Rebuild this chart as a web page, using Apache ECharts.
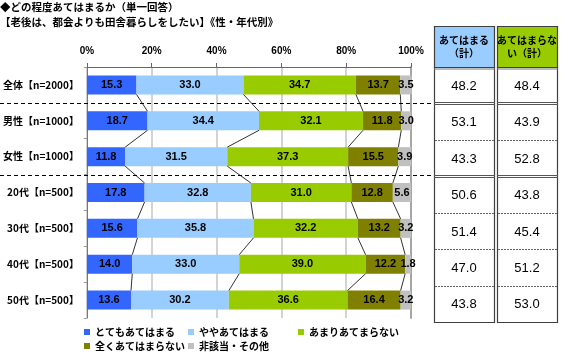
<!DOCTYPE html>
<html><head><meta charset="utf-8">
<script src="https://cdn.jsdelivr.net/npm/echarts@6/dist/echarts.min.js"></script>
<style>html,body{margin:0;padding:0;background:#fff}#c{width:580px;height:356px}</style>
</head><body><div id="c"></div>
<script>
// ---- data ----
const categories = ['全体【n=2000】','男性【n=1000】','女性【n=1000】','20代【n=500】','30代【n=500】','40代【n=500】','50代【n=500】'];
const seriesNames = ['とてもあてはまる','ややあてはまる','あまりあてまらない','全くあてはまらない','非該当・その他'];
const veryTrue     = [15.3, 18.7, 11.8, 17.8, 15.6, 14.0, 13.6];
const somewhatTrue = [33.0, 34.4, 31.5, 32.8, 35.8, 33.0, 30.2];
const notReally    = [34.7, 32.1, 37.3, 31.0, 32.2, 39.0, 36.6];
const notAtAll     = [13.7, 11.8, 15.5, 12.8, 13.2, 12.2, 16.4];
const otherNA      = [3.5, 3.0, 3.9, 5.6, 3.2, 1.8, 3.2];
const applyTotal    = [48.2, 53.1, 43.3, 50.6, 51.4, 47.0, 43.8];
const notApplyTotal = [48.4, 43.9, 52.8, 43.8, 45.4, 51.2, 53.0];
const tableHeaders = ['あてはまる\n（計）', 'あてはまらな\nい（計）'];
const titleText = '◆どの程度あてはまるか（単一回答）\n【老後は、都会よりも田舎暮らしをしたい】《性・年代別》';

// ---- styles ----
const colors = ['#3366FF','#99CCFF','#99CC00','#808000','#C0C0C0'];
const JP = '"Noto Sans CJK JP","Noto Sans",sans-serif';
const AR = '"Liberation Sans",Arial,sans-serif';
const BAR_W = 19;

const allSeries = [veryTrue, somewhatTrue, notReally, notAtAll, otherNA];
// cumulative boundaries for connector lines
const cum = categories.map((_, i) => {
  let s = 0; const out = [];
  for (let k = 0; k < 4; k++) { s += allSeries[k][i]; out.push(s); }
  return out;
});
const connData = [];
for (let i = 0; i < categories.length - 1; i++) {
  for (let k = 0; k < 4; k++) connData.push([cum[i][k], i, cum[i+1][k], i+1]);
}

const chart = echarts.init(document.getElementById('c'), null, {renderer: 'canvas'});

const legendPos = [[84, 327], [188, 327], [298, 327], [84, 341], [188, 341]];

const option = {
  animation: false,
  backgroundColor: '#fff',
  title: {
    text: titleText, left: 0, top: 0, padding: 0,
    textStyle: {fontSize: 10.5, fontWeight: 'bold', fontFamily: JP, color: '#000', lineHeight: 15}
  },
  legend: seriesNames.map((n, i) => ({
    data: [n], left: legendPos[i][0], top: legendPos[i][1], padding: 0,
    itemWidth: 6, itemHeight: 6, icon: 'rect', selectedMode: false,
    textStyle: {fontSize: 10, fontWeight: 'bold', fontFamily: JP, color: '#000'}
  })),
  grid: {left: 86, right: 169, top: 67, bottom: 38},
  xAxis: {
    type: 'value', position: 'top', min: 0, max: 100, interval: 20,
    axisLine: {show: true, lineStyle: {color: '#666', width: 1}},
    axisTick: {show: true, length: 4, lineStyle: {color: '#666'}},
    axisLabel: {formatter: '{value}%', fontSize: 10, fontWeight: 'bold', fontFamily: AR, color: '#000', margin: 11},
    splitLine: {show: true, lineStyle: {color: '#c4c4c4', width: 1.5}}
  },
  yAxis: [{
    type: 'category', data: categories, inverse: true,
    axisLine: {show: true, lineStyle: {color: '#777', width: 1}},
    axisTick: {show: true, length: 3, lineStyle: {color: '#999'}},
    axisLabel: {fontSize: 10, fontWeight: 'bold', fontFamily: JP, color: '#000', margin: 8}
  }, {
    type: 'category', data: categories, inverse: true, position: 'right',
    axisLine: {show: true, lineStyle: {color: '#a6a6a6', width: 2}},
    axisTick: {show: false}, axisLabel: {show: false}
  }],
  series: seriesNames.map((n, k) => ({
    name: n, type: 'bar', stack: 'all', data: allSeries[k], barWidth: BAR_W,
    itemStyle: {color: colors[k]}, clip: false,
    label: {show: true, position: 'inside', color: '#000', fontSize: 11, fontWeight: 'bold', fontFamily: AR,
      formatter: p => p.value.toFixed(1)},
    emphasis: {disabled: true}
  })).concat([{
    type: 'custom', name: 'connectors', data: connData, silent: true, z: 3,
    encode: {x: [0, 2], y: [1, 3]},
    renderItem: (params, api) => {
      const p1 = api.coord([api.value(0), api.value(1)]);
      const p2 = api.coord([api.value(2), api.value(3)]);
      return {type: 'line', shape: {x1: p1[0], y1: p1[1] + BAR_W/2, x2: p2[0], y2: p2[1] - BAR_W/2},
        style: {stroke: '#333', lineWidth: 1}};
    }
  }])
};
chart.setOption(option);

// ---- separators and side table ----
const centers = categories.map(c => chart.convertToPixel({yAxisIndex: 0}, c));
const sepY = [(centers[0] + centers[1]) / 2, (centers[2] + centers[3]) / 2];
const g = [];
sepY.forEach(y => g.push({type: 'line', shape: {x1: 0, y1: Math.round(y)+0.5, x2: 436, y2: Math.round(y)+0.5},
  style: {stroke: '#000', lineWidth: 1, lineDash: [4, 3]}, z: 10}));

const cols = [[434, 494], [497, 557]];
const headTop = 26, headBot = 67, tabBot = 322;
const rowH = (tabBot - headBot) / categories.length;
const colVals = [applyTotal, notApplyTotal];
const headFill = ['#99CCFF', '#99CC00'];
cols.forEach((c, j) => {
  const w = c[1] - c[0];
  g.push({type: 'rect', shape: {x: c[0]+0.5, y: headTop+0.5, width: w, height: headBot - headTop},
    style: {fill: headFill[j], stroke: '#404040', lineWidth: 1.2}, z: 10});
  g.push({type: 'text', x: c[0] + w/2, y: (headTop + headBot)/2,
    style: {text: tableHeaders[j], fill: '#000', font: 'bold 10px ' + JP, align: 'center', verticalAlign: 'middle', lineHeight: 13}, z: 11});
  g.push({type: 'rect', shape: {x: c[0]+0.5, y: headBot+0.5, width: w, height: tabBot - headBot},
    style: {fill: '#fff', stroke: '#404040', lineWidth: 1.2}, z: 10});
  // header bottom double line
  g.push({type: 'line', shape: {x1: c[0], y1: headBot + 2, x2: c[1]+1, y2: headBot + 2}, style: {stroke: '#777', lineWidth: 1}, z: 11});
  for (let i = 1; i < categories.length; i++) {
    const y = Math.round(headBot + rowH * i) + 0.5;
    if (i === 1 || i === 3) {
      g.push({type: 'line', shape: {x1: c[0], y1: y - 1, x2: c[1]+1, y2: y - 1}, style: {stroke: '#555', lineWidth: 1}, z: 11});
      g.push({type: 'line', shape: {x1: c[0], y1: y + 1, x2: c[1]+1, y2: y + 1}, style: {stroke: '#555', lineWidth: 1}, z: 11});
    } else {
      g.push({type: 'line', shape: {x1: c[0]+1, y1: y, x2: c[1], y2: y}, style: {stroke: '#666', lineWidth: 1, lineDash: [2, 1]}, z: 11});
    }
  }
  colVals[j].forEach((v, i) => {
    g.push({type: 'text', x: c[0] + w/2, y: headBot + rowH * (i + 0.5) + 1,
      style: {text: v.toFixed(1), fill: '#000', font: '13px ' + AR, align: 'center', verticalAlign: 'middle'}, z: 11});
  });
});
chart.setOption({graphic: g});
</script>
</body></html>
